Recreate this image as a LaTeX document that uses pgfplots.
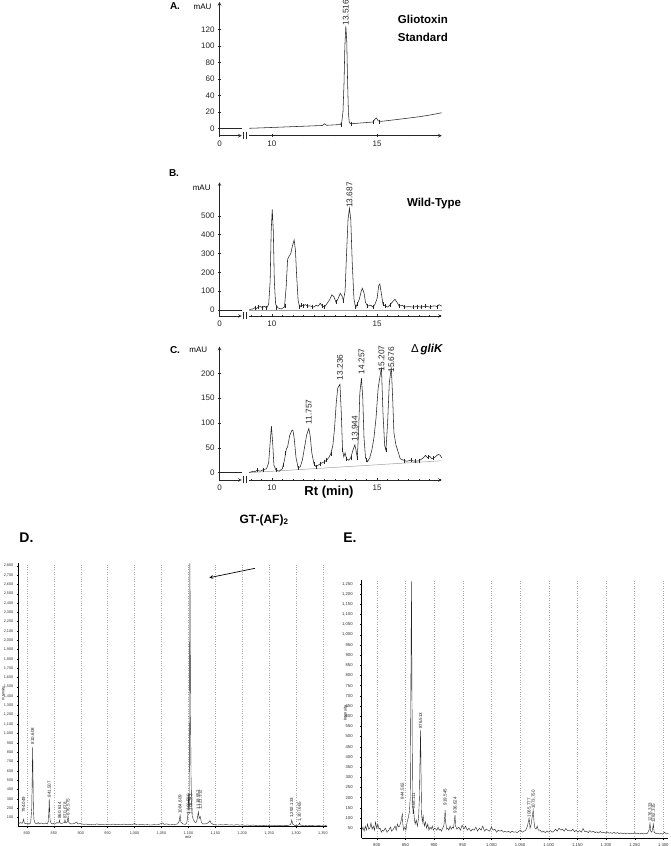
\documentclass[border=0pt]{standalone}
\usepackage{pgfplots}
\pgfplotsset{compat=1.18}
\usepackage{fontspec}
\setmainfont{Liberation Sans}

\definecolor{trace}{HTML}{262626}
\definecolor{baseln}{HTML}{A0A0A0}
\definecolor{gridc}{HTML}{A8A8A8}
\newcommand{\fs}[1]{\fontsize{#1}{#1}\selectfont}

\pgfplotsset{
  chrom/.style={scale only axis, clip=false,
    axis line style={-, line width=0.6pt, draw=trace},
    tick style={draw=trace, line width=0.45pt},
    tick align=outside, major tick length=3pt, minor tick length=1.6pt,
    tick label style={font={\fs{8}}, text=trace},
    /pgf/number format/assume math mode=true, scaled ticks=false},
  stub/.style={chrom, axis x line=bottom, axis y line=left,
    xmin=0, xmax=1.054, width=22.2pt, xtick={0}, minor y tick num=4},
  main/.style={chrom, axis x line=bottom, axis y line=none, ytick=\empty,
    xmin=8.93, xmax=18.07, width=192.4pt, xtick={10,15}, minor xtick={9,9.5,...,18}},
  trc/.style={trace, line width=0.55pt},
  imark/.style={only marks, mark=|, mark size=2pt, trace, mark options={line width=0.4pt}},
  spec/.style={scale only axis, axis lines=left,
    axis line style={-, line width=0.6pt, draw=black},
    tick style={draw=black, line width=0.3pt}, tick align=outside,
    major tick length=1.5pt,
    tick label style={font={\fs{3.8}}, text=black!80},
    xmajorgrids, grid style={dotted, gridc, line width=0.35pt},
    /pgf/number format/assume math mode=true, /pgf/number format/1000 sep={,},
    scaled ticks=false},
  strc/.style={black!85, line width=0.4pt},
}
\tikzset{
  plab/.style={font={\fs{4.5}}, rotate=90, anchor=west, inner sep=0.3pt, text=black!85},
  clab/.style={font={\fs{8.3}}, rotate=90, anchor=west, inner sep=0.5pt, text=trace},
}

\begin{document}
\begin{tikzpicture}
\path[use as bounding box, fill=white] (0,0) rectangle (670pt,846pt);

% ---------- A: gliotoxin standard
\begin{axis}[stub, at={(219.5pt,710.3pt)}, anchor=south west, height=133.7pt,
  ymin=-8.97, ymax=153.1, ytick={0,20,...,120}]
  \addplot[trc] coordinates {(0,0)(1.054,0)};
\end{axis}
\begin{axis}[main, at={(249.3pt,710.3pt)}, anchor=south west, height=133.7pt,
  ymin=-8.97, ymax=153.1]
  \addplot[trc] coordinates {
    (8.93,0)(9.5,0.5)(10,1)(10.5,1.5)(11,2)(11.5,2.5)(12,3)(12.4,3.4)(12.5,5.5)(12.6,3.6)
    (13,4.2)(13.25,4.5)(13.32,7)(13.38,20)(13.43,55)(13.47,100)(13.516,124)(13.56,105)
    (13.6,55)(13.64,18)(13.68,7)(13.75,5.5)(14,6)(14.5,7)(14.8,7.6)(14.9,11)(14.97,12.5)
    (15.05,9)(15.2,8.4)(15.5,9.3)(16,10.8)(16.5,12.4)(17,14)(17.5,16)(18.07,18.8)};
  \addplot[imark] coordinates {(13.3,4.5)(13.75,5.5)(14.8,7.6)(15.1,8.2)};
  \node[clab] at (axis cs:13.516,124) {13.516};
\end{axis}

% ---------- B: wild type
\begin{axis}[stub, at={(219.5pt,530pt)}, anchor=south west, height=133.7pt,
  ymin=-32.4, ymax=678.7, ytick={0,100,...,500}]
  \addplot[trc] coordinates {(0,0)(1.054,0)};
\end{axis}
\begin{axis}[main, at={(249.3pt,530pt)}, anchor=south west, height=133.7pt,
  ymin=-32.4, ymax=678.7]
  \addplot[baseln, line width=0.5pt] coordinates {(8.93,0)(18.07,0)};
  \addplot[trc] coordinates {
    (8.93,2)(9.1,5)(9.2,12)(9.25,5)(9.35,15)(9.45,18)(9.55,12)(9.65,20)(9.75,10)(9.85,30)
    (9.92,150)(9.97,420)(10.02,535)(10.07,420)(10.12,150)(10.18,30)(10.3,10)(10.45,5)
    (10.6,15)(10.68,120)(10.75,270)(10.82,285)(10.9,300)(10.98,340)(11.06,372)(11.12,320)
    (11.18,180)(11.25,50)(11.32,15)(11.4,25)(11.5,22)(11.6,28)(11.7,20)(11.8,22)(11.9,18)
    (12.0,15)(12.1,25)(12.2,20)(12.3,35)(12.4,20)(12.5,15)(12.6,30)(12.75,55)(12.85,80)
    (12.95,70)(13.05,40)(13.15,60)(13.25,88)(13.33,75)(13.4,50)(13.48,100)(13.55,300)
    (13.62,480)(13.687,540)(13.75,480)(13.82,250)(13.9,60)(13.98,10)(14.05,30)(14.15,55)
    (14.25,100)(14.3,115)(14.38,90)(14.45,40)(14.55,20)(14.7,25)(14.8,15)(14.9,30)(15.0,60)
    (15.08,130)(15.13,138)(15.2,90)(15.28,30)(15.4,20)(15.5,15)(15.6,25)(15.75,45)
    (15.85,56)(15.95,40)(16.05,20)(16.2,25)(16.3,15)(16.5,18)(16.7,15)(16.9,18)(17.1,15)
    (17.3,20)(17.5,15)(17.7,22)(17.85,18)(17.95,28)(18.07,20)};
  \addplot[imark] coordinates {(9.2,12)(9.35,15)(9.55,12)(9.75,10)(10.2,8)(10.62,20)
    (11.3,15)(11.4,25)(11.5,22)(11.7,20)(11.9,18)(12.4,20)(12.5,15)(13.05,40)(13.4,50)
    (13.95,15)(14.05,30)(14.55,20)(14.8,15)(15.28,30)(15.4,20)(15.6,25)(16.05,20)(16.3,15)
    (16.7,15)(16.9,18)(17.1,15)(17.3,20)(17.5,15)(17.85,18)};
  \node[clab] at (axis cs:13.687,540) {13.687};
\end{axis}

% ---------- C: delta gliK
\begin{axis}[stub, at={(219.5pt,366pt)}, anchor=south west, height=133.3pt,
  ymin=-14.7, ymax=253.5, ytick={0,50,...,200}]
  \addplot[trc] coordinates {(0,0)(1.054,0)};
\end{axis}
\begin{axis}[main, at={(249.3pt,366pt)}, anchor=south west, height=133.3pt,
  ymin=-14.7, ymax=253.5]
  \addplot[baseln, line width=0.5pt] coordinates {(8.93,0)(18.07,24)};
  \addplot[trc] coordinates {
    (8.93,0)(9.1,3)(9.2,2)(9.3,5)(9.45,3)(9.6,6)(9.75,8)(9.85,20)(9.92,60)(9.98,94)
    (10.04,60)(10.1,15)(10.2,5)(10.35,3)(10.5,8)(10.6,25)(10.69,48)(10.75,52)(10.85,75)
    (10.95,85)(11.0,86)(11.06,70)(11.15,30)(11.25,10)(11.35,12)(11.45,25)(11.55,50)
    (11.65,75)(11.757,89)(11.82,75)(11.9,40)(12.0,18)(12.1,12)(12.2,15)(12.3,18)(12.4,20)
    (12.5,22)(12.6,25)(12.7,30)(12.8,38)(12.9,55)(12.98,90)(13.06,140)(13.13,170)(13.236,178)
    (13.3,120)(13.36,45)(13.42,32)(13.48,40)(13.55,28)(13.65,25)(13.75,30)(13.85,45)
    (13.944,56)(14.0,45)(14.06,30)(14.12,80)(14.18,160)(14.257,190)(14.32,150)(14.38,70)
    (14.45,30)(14.55,22)(14.65,30)(14.75,45)(14.85,70)(14.95,110)(15.05,170)(15.207,212)
    (15.28,120)(15.36,55)(15.42,45)(15.5,100)(15.58,180)(15.676,212)(15.74,150)(15.8,80)
    (15.9,55)(16.0,42)(16.1,28)(16.2,26)(16.4,23)(16.6,25)(16.8,23)(17.0,24)(17.2,30)
    (17.3,35)(17.4,30)(17.5,33)(17.6,28)(17.75,31)(17.9,37)(18.0,35)(18.07,30)};
  \addplot[imark] coordinates {(9.3,5)(9.6,6)(10.2,5)(10.55,15)(10.65,40)(11.25,10)
    (12.0,18)(12.1,12)(12.3,18)(12.5,22)(12.6,25)(12.8,38)(13.36,45)(13.55,28)(13.75,30)
    (14.06,30)(14.5,25)(15.42,45)(16.3,24)(16.6,25)(16.8,23)(17.0,24)(17.45,31)(17.65,29)};
  \node[clab] at (axis cs:11.757,96) {11.757};
  \node[clab] at (axis cs:13.236,185) {13.236};
  \node[clab] at (axis cs:13.944,62) {13.944};
  \node[clab] at (axis cs:14.257,197) {14.257};
  \node[clab] at (axis cs:15.207,203) {15.207};
  \node[clab] at (axis cs:15.676,200) {15.676};
\end{axis}

% axis breaks
\foreach \b in {710.3,530,366}{
  \draw[trace, line width=0.5pt] (243.5pt,\b pt-3.5pt) -- ++(0,7pt);
  \draw[trace, line width=0.5pt] (246.2pt,\b pt-3.5pt) -- ++(0,7pt);
}

% chromatogram texts
\node[font={\fs{10}\bfseries}] at (175pt,840pt) {A.};
\node[font={\fs{10}\bfseries}] at (174pt,673pt) {B.};
\node[font={\fs{10}\bfseries}] at (175pt,496pt) {C.};
\node[font={\fs{8}}] at (202.5pt,839pt) {mAU};
\node[font={\fs{8}}] at (201.7pt,658.7pt) {mAU};
\node[font={\fs{8}}] at (198.3pt,496pt) {mAU};
\node[font={\fs{11.5}\bfseries}, anchor=east, inner sep=0] at (448pt,826.7pt) {Gliotoxin};
\node[font={\fs{11.5}\bfseries}, anchor=east, inner sep=0] at (448pt,808.7pt) {Standard};
\node[font={\fs{11.5}\bfseries}] at (434pt,642pt) {Wild-Type};
\node[font={\fs{11.5}}, anchor=east, inner sep=0] at (443.3pt,496.7pt) {Δ\,\textbf{\textit{gliK}}};
\node[font={\fs{13}\bfseries}] at (329pt,354.3pt) {Rt (min)};
\node[font={\fs{12}\bfseries}] at (264pt,326pt) {GT-(AF)\textsubscript{2}};
\node[font={\fs{14}\bfseries}] at (26.5pt,308pt) {D.};
\node[font={\fs{14}\bfseries}] at (350pt,308pt) {E.};

% ---------- D: mass spectrum
\begin{axis}[spec, at={(18.3pt,19.3pt)}, anchor=south west, width=308.4pt, height=263.4pt,
  xmin=784, xmax=1357, ymin=0, ymax=2826,
  xtick={800,850,...,1350}, ytick={100,200,...,2800}]
  \addplot[strc] coordinates {
    (784,30)(788,45)(791,35)(793,60)(794,80)(795,40)(798,30)(801,35)(804,28)(807,40)
    (809,200)(810,600)(810.6,850)(811.3,550)(812,200)(813,80)(815,40)(818,30)(821,45)
    (823,30)(826,40)(829,35)(832,30)(835,38)(838,30)(840,60)(841,200)(841.5,300)(842.2,180)
    (843,70)(845,35)(848,30)(851,40)(854,35)(856,45)(858,38)(859.5,45)(860.6,70)(861.5,40)
    (864,35)(867,40)(870,45)(870.7,75)(872,40)(875,50)(876.5,110)(878,45)(881,30)(884,30)
    (888,35)(892,50)(895,30)(899,35)(902,30)(906,25)(910,28)(915,22)(920,25)(925,20)
    (930,30)(935,22)(940,25)(945,20)(950,24)(955,20)(960,28)(965,22)(970,25)(975,20)
    (980,28)(985,22)(990,25)(995,20)(1000,35)(1003,22)(1008,20)(1012,25)(1018,20)(1024,22)
    (1030,18)(1036,22)(1042,20)(1048,30)(1052,40)(1055,25)(1060,30)(1065,20)(1070,22)
    (1075,25)(1080,30)(1083,60)(1084.6,125)(1086,50)(1090,30)(1094,25)(1097,40)(1099,120)
    (1100.5,350)(1101.5,200)(1102.9,2826)(1104,1200)(1105,500)(1106,250)(1107,120)
    (1109,80)(1111,60)(1113,45)(1115,50)(1117,100)(1118.5,160)(1120,90)(1122,110)(1124,50)
    (1127,30)(1131,30)(1135,35)(1138,50)(1140,65)(1142,40)(1146,25)(1150,20)(1155,18)
    (1160,22)(1165,18)(1170,25)(1175,18)(1180,20)(1185,17)(1190,22)(1195,17)(1200,20)
    (1205,15)(1210,18)(1215,14)(1220,18)(1225,14)(1230,16)(1235,12)(1240,15)(1245,12)
    (1250,14)(1255,12)(1260,14)(1265,12)(1270,15)(1275,12)(1280,15)(1285,14)(1289,20)
    (1291,40)(1292.1,72)(1293.5,30)(1297,15)(1302,14)(1305,20)(1306.5,40)(1308,18)
    (1312,14)(1318,12)(1325,14)(1330,12)(1336,13)(1342,12)(1348,13)(1357,12)};
  \node[plab] at (axis cs:794,144) {794.049};
  \node[plab] at (axis cs:810.6,880) {810.608};
  \node[plab] at (axis cs:841.5,310) {841.507};
  \node[plab] at (axis cs:860.6,80) {860.614};
  \node[plab] at (axis cs:870.7,82) {870.678};
  \node[plab] at (axis cs:876.5,120) {876.575};
  \node[plab] at (axis cs:1084.6,135) {1084.609};
  \node[plab] at (axis cs:1100.5,130) {1,100.580};
  \node[plab] at (axis cs:1105,130) {1,105.283};
  \node[plab] at (axis cs:1118.5,175) {1,118.552};
  \node[plab] at (axis cs:1122,175) {1,121.312};
  \node[plab] at (axis cs:1292.1,90) {1,292.133};
  \node[plab] at (axis cs:1306.5,50) {1,307.665};
  \node[font={\fs{4}}, anchor=south west, inner sep=0.5pt, text=black!85] at (axis cs:1103.5,2826) {1102.945};
\end{axis}
\draw[-stealth, line width=0.7pt] (255pt,277.7pt) -- (209.3pt,268.3pt);
\node[font={\fs{3.6}}, rotate=90] at (3.5pt,152.7pt) {Intensity};
\node[font={\fs{3.6}}] at (188.3pt,8.7pt) {m/z};

% ---------- E: mass spectrum
\begin{axis}[spec, at={(361.7pt,7.7pt)}, anchor=south west, width=306.6pt, height=258.3pt,
  xmin=773.8, xmax=1308.7, ymin=0, ymax=1269,
  xtick={800,850,...,1300}, ytick={50,100,...,1250},
  tick label style={font={\fs{4.2}}}, yticklabel style={xshift=-4pt}]
  \addplot[strc] coordinates {
    (774,40)(776,55)(778,35)(780,60)(782,40)(784,70)(786,45)(788,50)(790,75)(792,45)
    (794,60)(796,40)(798,80)(800,50)(802,70)(804,45)(806,50)(808,30)(810,40)(812,35)
    (815,50)(818,30)(821,40)(824,55)(826,35)(829,45)(832,60)(834,40)(836,70)(838,55)
    (840,60)(842,80)(843.5,100)(844.6,120)(845.5,70)(847,40)(849,55)(851,40)(853,80)
    (855,100)(857,130)(858.5,200)(859.5,700)(860.6,1265)(861.5,700)(862.5,200)(863.5,120)
    (864.5,140)(865.5,100)(867,70)(869,90)(871,60)(873,100)(874.5,200)(875.6,400)
    (876.5,530)(877.4,300)(878.3,120)(879.5,80)(881,110)(883,60)(885,80)(887,50)(889,70)
    (891,40)(893,55)(895,45)(897,60)(899,40)(901,50)(903,45)(905,40)(907,55)(909,40)
    (911,45)(913,35)(915,50)(917,60)(918.5,100)(919.4,140)(920.3,80)(922,45)(924,50)
    (926,40)(928,60)(930,45)(932,55)(934,50)(935.6,90)(936.6,115)(937.6,60)(940,45)
    (943,55)(946,40)(949,65)(952,45)(955,60)(958,40)(961,50)(964,35)(967,45)(970,40)
    (973,55)(976,35)(979,50)(982,40)(985,60)(988,35)(991,45)(994,40)(997,35)(1000,55)
    (1003,40)(1006,45)(1009,30)(1012,40)(1015,35)(1018,40)(1021,30)(1024,35)(1027,30)
    (1030,35)(1033,28)(1036,35)(1039,30)(1042,32)(1045,28)(1048,35)(1051,40)(1054,30)
    (1057,35)(1060,40)(1063,60)(1065.8,100)(1067.5,50)(1069.5,70)(1072,120)(1073,139)
    (1074.5,80)(1076,50)(1078,45)(1080,60)(1082,40)(1085,40)(1088,30)(1091,35)(1094,28)
    (1097,35)(1100,30)(1103,38)(1106,30)(1109,35)(1112,45)(1115,35)(1118,50)(1121,40)
    (1124,45)(1127,35)(1130,48)(1133,38)(1136,40)(1139,35)(1142,45)(1145,32)(1148,40)
    (1151,30)(1154,38)(1157,30)(1160,48)(1163,32)(1166,35)(1169,28)(1172,38)(1175,30)
    (1178,35)(1181,28)(1184,32)(1187,26)(1190,34)(1193,26)(1196,30)(1199,25)(1202,32)
    (1205,25)(1208,28)(1211,24)(1214,30)(1217,24)(1220,28)(1223,22)(1226,27)(1229,22)
    (1232,26)(1235,22)(1238,26)(1241,22)(1244,25)(1247,22)(1250,28)(1253,22)(1256,24)
    (1259,21)(1262,25)(1265,22)(1268,24)(1271,22)(1273,28)(1275,40)(1276.8,74)(1278,35)
    (1280,30)(1281.5,50)(1282.6,70)(1284,30)(1287,24)(1290,25)(1293,21)(1296,24)(1299,20)
    (1302,30)(1305,22)(1308.7,24)};
  \node[plab] at (axis cs:844.6,190) {844.582};
  \node[plab] at (axis cs:864.5,145) {865.111};
  \node[plab] at (axis cs:876.5,535) {876.513};
  \node[plab] at (axis cs:919.4,160) {919.545};
  \node[plab] at (axis cs:936.6,120) {936.624};
  \node[plab] at (axis cs:1065.8,102) {1065.777};
  \node[plab] at (axis cs:1073,142) {1073.750};
  \node[plab] at (axis cs:1276.8,80) {1276.333};
  \node[plab] at (axis cs:1282.6,75) {1282.335};
  \node[font={\fs{4.5}}, anchor=south west, inner sep=0.5pt, text=black!85] at (axis cs:861.5,1269) {860.583};
\end{axis}
\node[font={\fs{4}}, rotate=90] at (345.5pt,132.7pt) {Intensity};
\end{tikzpicture}
\end{document}
